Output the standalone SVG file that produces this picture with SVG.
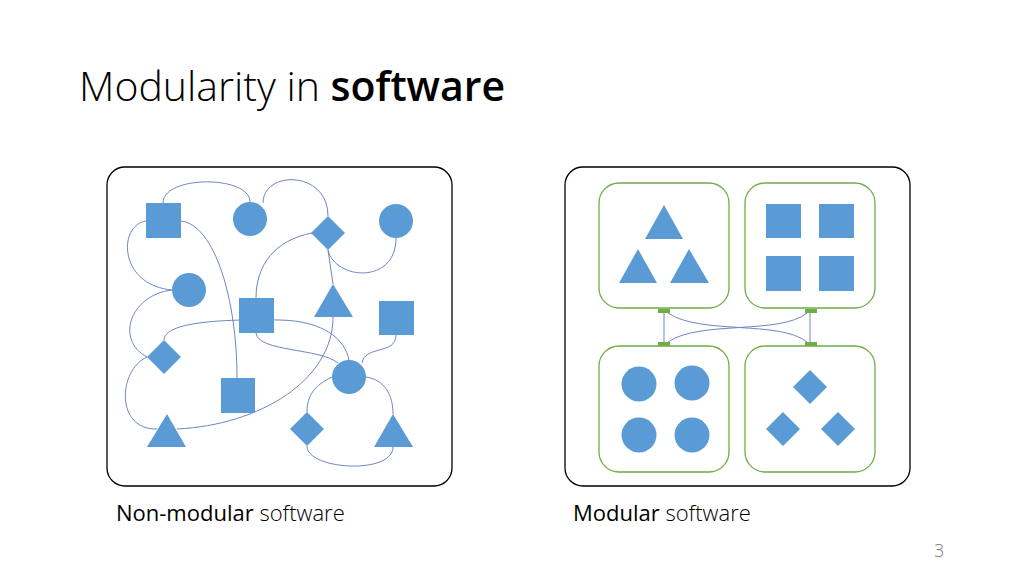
<svg xmlns="http://www.w3.org/2000/svg" width="1024" height="576" viewBox="0 0 1024 576">
<style>
.s{fill:#5B9BD5}
.c{fill:none;stroke:#7084C4;stroke-width:1}
.frame{fill:#fff;stroke:#000;stroke-width:1.3}
.mod{fill:#fff;stroke:#70AD47;stroke-width:1.3}
.port{fill:#70AD47}
.t{font-family:"Open Sans","Liberation Sans",sans-serif;fill:#000}
</style>
<rect width="1024" height="576" fill="#fff"/>
<text class="t" x="79" y="101" font-size="41" font-weight="300">Modularity in <tspan font-weight="600">software</tspan></text>
<g id="leftPanel">
<rect class="frame" x="107" y="167" width="345" height="319" rx="18"/>
</g>
<g id="connectorsLeft">
<path class="c" d="M163,203 C163,175 250,175 250,202"/>
<path class="c" d="M263,203 C263,170 328,170 328,216"/>
<path class="c" d="M146,221 C118,225 118,285 172,290"/>
<path class="c" d="M181,221 C215,225 237,300 237,378"/>
<path class="c" d="M312,233 C275,240 256,265 256,298"/>
<path class="c" d="M328,250 C335,280 396,285 396,238"/>
<path class="c" d="M328,250 L333,284"/>
<path class="c" d="M172,290 C130,295 115,340 147,357"/>
<path class="c" d="M147,357 C118,370 115,430 157,429"/>
<path class="c" d="M164,340 C165,322 220,319 280,320 C325,321 345,340 349,360"/>
<path class="c" d="M177,429 C260,425 333,380 333,317"/>
<path class="c" d="M256,333 C258,352 320,348 338,363"/>
<path class="c" d="M396,335 C396,355 365,345 362,363"/>
<path class="c" d="M332,377 C315,385 307,395 307,412"/>
<path class="c" d="M366,377 C385,380 393,395 393,414"/>
<path class="c" d="M307,446 C307,470 393,475 393,447"/>
</g>
<g id="n1"><rect class="s" x="146" y="203" width="35" height="35"/></g>
<g id="n2"><circle class="s" cx="250" cy="219" r="17"/></g>
<g id="n3"><polygon class="s" points="328,216 345,233 328,250 311,233"/></g>
<g id="n4"><circle class="s" cx="396" cy="221" r="17"/></g>
<g id="n5"><circle class="s" cx="189" cy="290" r="17"/></g>
<g id="n6"><rect class="s" x="239" y="298" width="35" height="35"/></g>
<g id="n7"><polygon class="s" points="333,284 353,317 314,317"/></g>
<g id="n8"><rect class="s" x="379" y="301" width="35" height="34"/></g>
<g id="n9"><polygon class="s" points="164,340 181,357 164,374 147,357"/></g>
<g id="n10"><circle class="s" cx="349" cy="377" r="17"/></g>
<g id="n11"><rect class="s" x="221" y="378" width="34" height="35"/></g>
<g id="n12"><polygon class="s" points="167,414 186,447 147,447"/></g>
<g id="n13"><polygon class="s" points="307,412 324,429 307,446 290,429"/></g>
<g id="n14"><polygon class="s" points="393,414 413,447 374,447"/></g>
<g id="rightPanel">
<rect class="frame" x="565" y="167" width="345" height="319" rx="18"/>
</g>
<g id="moduleTriangles">
<rect class="mod" x="599" y="183" width="130" height="125" rx="20"/>
<polygon class="s" points="664,205 683,239 645,239"/>
<polygon class="s" points="638,249 657,283 619,283"/>
<polygon class="s" points="689,249 709,283 670,283"/>
</g>
<g id="moduleSquares">
<rect class="mod" x="745" y="183" width="130" height="125" rx="20"/>
<rect class="s" x="766" y="204" width="35" height="34"/>
<rect class="s" x="819" y="204" width="35" height="34"/>
<rect class="s" x="766" y="256" width="35" height="35"/>
<rect class="s" x="819" y="256" width="35" height="35"/>
</g>
<g id="moduleCircles">
<rect class="mod" x="599" y="346" width="130" height="126" rx="20"/>
<circle class="s" cx="639" cy="384" r="17.5"/>
<circle class="s" cx="692" cy="383" r="17.5"/>
<circle class="s" cx="639" cy="435" r="17.5"/>
<circle class="s" cx="692" cy="435" r="17.5"/>
</g>
<g id="moduleDiamonds">
<rect class="mod" x="745" y="346" width="130" height="126" rx="20"/>
<polygon class="s" points="810,370 827,387 810,404 793,387"/>
<polygon class="s" points="783,412 800,429 783,446 766,429"/>
<polygon class="s" points="838,412 855,429 838,446 821,429"/>
</g>
<g id="connectorsRight">
<path class="c" d="M664,313 L664,342"/>
<path class="c" d="M810,313 L810,342"/>
<path class="c" d="M668,313 C700,335 780,320 807,342"/>
<path class="c" d="M807,313 C780,335 700,320 668,342"/>
<rect class="port" x="658" y="309" width="12" height="4"/>
<rect class="port" x="805" y="309" width="12" height="4"/>
<rect class="port" x="658" y="342" width="12" height="4"/>
<rect class="port" x="805" y="342" width="12" height="4"/>
</g>
<text class="t" x="116" y="521" font-size="22"><tspan font-weight="500">Non-modular</tspan><tspan font-weight="300"> software</tspan></text>
<text class="t" x="573" y="521" font-size="22"><tspan font-weight="500">Modular</tspan><tspan font-weight="300"> software</tspan></text>
<text class="t" x="934" y="557" font-size="18" font-weight="300" style="fill:#777">3</text>
</svg>
